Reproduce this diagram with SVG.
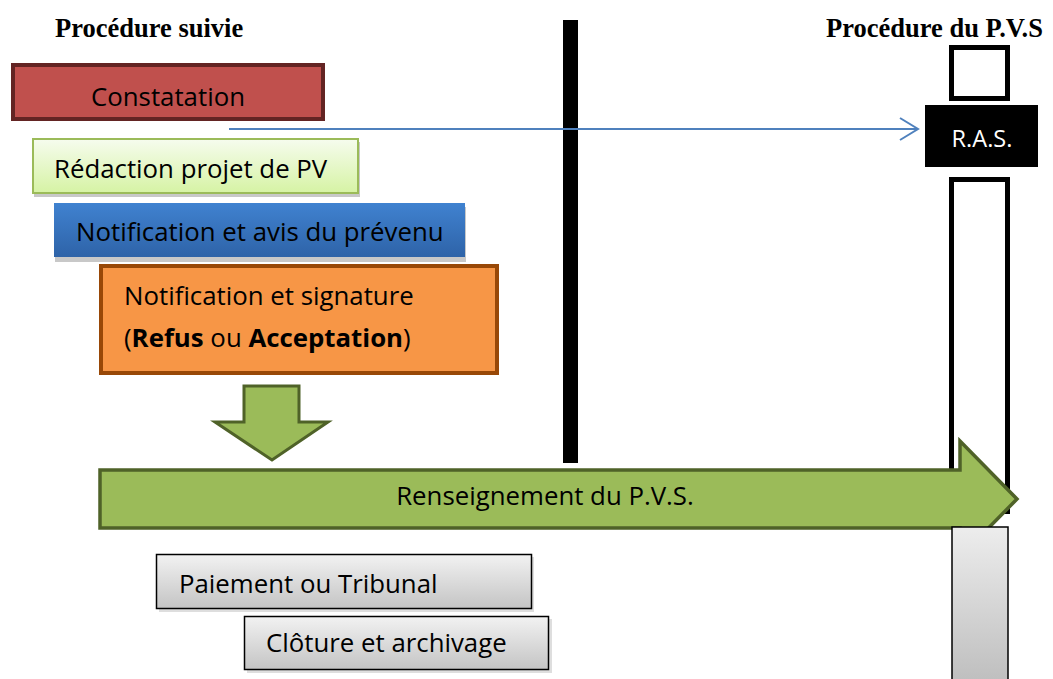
<svg xmlns="http://www.w3.org/2000/svg" width="1053" height="679" viewBox="0 0 1053 679">
  <defs>
    <linearGradient id="gLightGreen" x1="0" y1="0" x2="0" y2="1">
      <stop offset="0" stop-color="#F6FCEE"/>
      <stop offset="1" stop-color="#D6F3A4"/>
    </linearGradient>
    <linearGradient id="gBlue" x1="0" y1="0" x2="0" y2="1">
      <stop offset="0" stop-color="#4082D0"/>
      <stop offset="1" stop-color="#2E63A8"/>
    </linearGradient>
    <linearGradient id="gGray" x1="0" y1="0" x2="0" y2="1">
      <stop offset="0" stop-color="#F2F2F2"/>
      <stop offset="1" stop-color="#C4C4C4"/>
    </linearGradient>
    <linearGradient id="gGrayTall" x1="0" y1="0" x2="0" y2="1">
      <stop offset="0" stop-color="#EDEDED"/>
      <stop offset="1" stop-color="#BDBDBD"/>
    </linearGradient>
  </defs>
  <style>
    .title { font-family: "Liberation Serif", "Times New Roman", serif; font-weight: bold; font-size: 26.5px; fill: #000; }
    .lbl { font-family: "Open Sans", "Liberation Sans", sans-serif; font-size: 25.8px; fill: #000; }
    .shadow { fill: #C8C8C8; }
    .frame { fill: #FFFFFF; stroke: #000000; stroke-width: 5; }
    .gbox { fill: url(#gGray); stroke: #000; stroke-width: 1.5; }
  </style>

  <rect width="1053" height="679" fill="#FFFFFF"/>

  <!-- Titles -->
  <text class="title" x="55" y="37">Procédure suivie</text>
  <text class="title" x="826" y="37">Procédure du P.V.S</text>

  <!-- Separator bar -->
  <rect id="separator" x="563" y="20" width="15" height="443" fill="#000"/>

  <!-- Right column frames -->
  <g id="pvs-top">
    <rect class="frame" x="951.5" y="47.5" width="56" height="51"/>
  </g>
  <g id="pvs-ras">
    <rect x="925" y="105" width="113" height="62" fill="#000"/>
    <text class="lbl" x="982" y="147" text-anchor="middle" style="fill:#FFFFFF;font-size:23.5px">R.A.S.</text>
  </g>
  <g id="pvs-middle">
    <rect class="frame" x="951.5" y="179.5" width="56" height="332"/>
  </g>

  <!-- Left column steps -->
  <g id="constatation">
    <rect x="13" y="65" width="310" height="54" fill="#C0504D" stroke="#632423" stroke-width="4"/>
    <text class="lbl" x="168" y="106" text-anchor="middle">Constatation</text>
  </g>

  <g id="redaction">
    <rect class="shadow" x="34" y="142" width="326" height="55"/>
    <rect x="33" y="139" width="325" height="54" fill="url(#gLightGreen)" stroke="#9BBB59" stroke-width="2"/>
    <text class="lbl" x="54" y="178">Rédaction projet de PV</text>
  </g>

  <g id="notification-avis">
    <rect class="shadow" x="55" y="207" width="411" height="55"/>
    <rect x="54" y="203" width="411" height="54" fill="url(#gBlue)"/>
    <text class="lbl" x="76" y="241">Notification et avis du prévenu</text>
  </g>

  <g id="notification-signature">
    <rect x="101" y="266" width="396" height="107" fill="#F79646" stroke="#984807" stroke-width="4"/>
    <text class="lbl" x="124" y="305">Notification et signature</text>
    <text class="lbl" x="124" y="347">(<tspan font-weight="bold">Refus</tspan> ou <tspan font-weight="bold">Acceptation</tspan>)</text>
  </g>

  <!-- Connectors -->
  <g id="connectors">
    <line x1="229" y1="129" x2="918" y2="129" stroke="#4F81BD" stroke-width="2"/>
    <polyline points="900,118 918,129 900,140" fill="none" stroke="#4F81BD" stroke-width="2"/>
    <polygon points="244,386 299,386 299,422 328,422 272,460 215,422 244,422" fill="#9BBB59" stroke="#4F6228" stroke-width="3" stroke-linejoin="miter"/>
  </g>

  <!-- Big arrow -->
  <g id="renseignement">
    <polygon points="100,470 960,470 960,441 1017,499 960,557 960,528 100,528" fill="#9BBB59" stroke="#4F6228" stroke-width="3.5"/>
    <text class="lbl" x="545" y="505" text-anchor="middle">Renseignement du P.V.S.</text>
  </g>

  <!-- Gray column bottom right -->
  <g id="pvs-bottom">
    <rect x="952" y="527" width="56" height="160" fill="url(#gGrayTall)" stroke="#000" stroke-width="1.5"/>
  </g>

  <!-- Bottom steps -->
  <g id="paiement">
    <rect class="shadow" x="159" y="557" width="375" height="55" opacity="0.6"/>
    <rect class="gbox" x="156.5" y="554.5" width="375" height="54"/>
    <text class="lbl" x="179" y="593">Paiement ou Tribunal</text>
  </g>
  <g id="cloture">
    <rect class="shadow" x="247" y="619" width="305" height="54" opacity="0.6"/>
    <rect class="gbox" x="244.5" y="616.5" width="304" height="53"/>
    <text class="lbl" x="266" y="652">Clôture et archivage</text>
  </g>
</svg>
